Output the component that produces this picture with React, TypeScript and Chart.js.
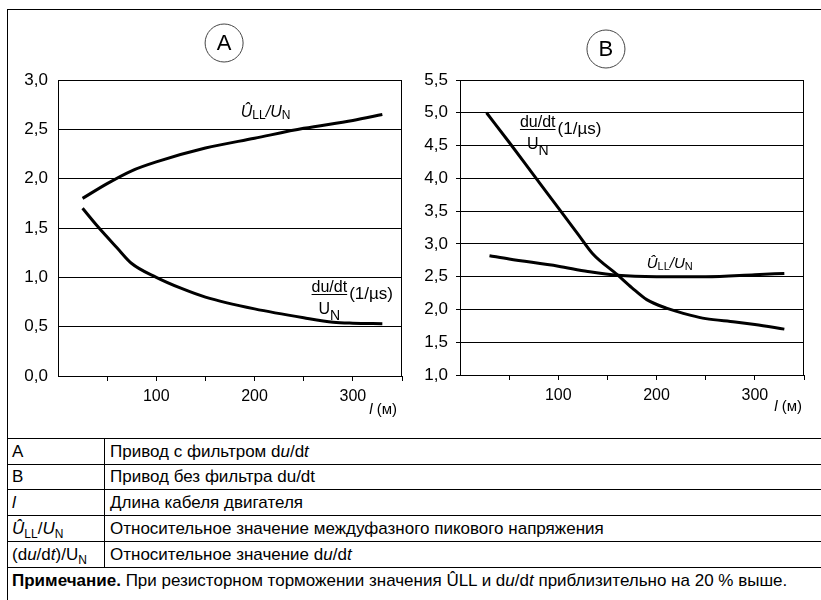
import React, { useEffect, useRef } from 'react';
import { Chart, registerables } from 'chart.js';

Chart.register(...registerables);

const FONT = "'Liberation Sans', Arial, Helvetica, sans-serif";

// ---- Chart A: drive with du/dt filter ----
const lengthPeakA = [25, 50, 75, 100, 150, 200, 250, 300, 330];
const peakA = [1.8, 1.95, 2.08, 2.17, 2.31, 2.41, 2.51, 2.59, 2.65];
const lengthDudtA = [25, 40, 60, 75, 100, 125, 150, 200, 250, 280, 300, 330];
const dudtA = [1.7, 1.52, 1.3, 1.14, 1.0, 0.89, 0.8, 0.68, 0.59, 0.545, 0.535, 0.53];

// ---- Chart B: drive without du/dt filter ----
const lengthDudtB = [27, 50, 75, 100, 120, 135, 160, 175, 190, 210, 235, 250, 280, 300, 330];
const dudtB = [5.0, 4.55, 4.05, 3.55, 3.15, 2.85, 2.53, 2.33, 2.15, 2.02, 1.91, 1.86, 1.81, 1.77, 1.7];
const lengthPeakB = [30, 50, 100, 130, 160, 200, 250, 300, 330];
const peakB = [2.82, 2.77, 2.66, 2.58, 2.52, 2.5, 2.5, 2.53, 2.55];

const xLabeled = [100, 200, 300];
const xRange = [0, 350];
const yRangeA = [0, 3];
const yRangeB = [1, 5.5];

type Seg = { t: string; size: number; italic?: boolean; dy?: number };

function fontOf(s: Seg) {
  return `${s.italic ? 'italic ' : ''}${s.size}px ${FONT}`;
}

function drawSegs(ctx: CanvasRenderingContext2D, segs: Seg[], x: number, y: number, align: 'left' | 'center' | 'right' = 'left') {
  let w = 0;
  for (const s of segs) {
    ctx.font = fontOf(s);
    w += ctx.measureText(s.t).width;
  }
  let cx = align === 'left' ? x : align === 'center' ? x - w / 2 : x - w;
  ctx.textAlign = 'left';
  ctx.textBaseline = 'alphabetic';
  for (const s of segs) {
    ctx.font = fontOf(s);
    ctx.fillText(s.t, cx, y + (s.dy || 0));
    cx += ctx.measureText(s.t).width;
  }
  return w;
}

type DecoCfg = {
  letter: string;
  circleX: number;
  circleDy: number;
  peak: { x: number; y: number; size: number };
  frac: { x: number; y: number; size: number };
  titleDx: number;
  titleDy: number;
};

function decoPlugin(cfg: DecoCfg) {
  return {
    id: 'deco' + cfg.letter,
    afterDraw(chart: any) {
      const ctx: CanvasRenderingContext2D = chart.ctx;
      const xs = chart.scales.x;
      const ys = chart.scales.y;
      const area = chart.chartArea;
      ctx.save();
      ctx.fillStyle = '#000';
      ctx.strokeStyle = '#000';
      // right border of plot
      ctx.lineWidth = 1;
      ctx.beginPath();
      const rx = Math.round(area.right) - 0.5;
      ctx.moveTo(rx, area.top);
      ctx.lineTo(rx, area.bottom);
      ctx.stroke();

      // circle label
      const cx = xs.getPixelForValue(cfg.circleX);
      const cy = area.top + cfg.circleDy;
      ctx.strokeStyle = '#444';
      ctx.lineWidth = 1;
      ctx.beginPath();
      ctx.arc(cx, cy, 19, 0, Math.PI * 2);
      ctx.stroke();
      ctx.font = `22px ${FONT}`;
      ctx.textAlign = 'center';
      ctx.textBaseline = 'middle';
      ctx.fillText(cfg.letter, cx, cy + 1);

      // peak label  U_LL / U_N
      const ps = cfg.peak.size;
      const sub = Math.round(ps * 0.75);
      drawSegs(ctx, [
        { t: 'Û', size: ps, italic: true },
        { t: 'LL', size: sub, dy: 2 },
        { t: '/', size: ps, italic: true },
        { t: 'U', size: ps, italic: true },
        { t: 'N', size: sub, dy: 2 },
      ], xs.getPixelForValue(cfg.peak.x), ys.getPixelForValue(cfg.peak.y));

      // fraction du/dt over U_N (1/µs)
      const fs = cfg.frac.size;
      const bx = xs.getPixelForValue(cfg.frac.x);
      const by = Math.round(ys.getPixelForValue(cfg.frac.y));
      ctx.font = `${fs}px ${FONT}`;
      const nw = ctx.measureText('du/dt').width;
      drawSegs(ctx, [{ t: 'du/dt', size: fs }], bx, by - 2);
      ctx.fillRect(bx, by, nw, 1);
      drawSegs(ctx, [
        { t: 'U', size: fs },
        { t: 'N', size: fs - 2, dy: 6 },
      ], bx + nw / 2, by + 20, 'center');
      drawSegs(ctx, [{ t: '(1/µs)', size: fs + 1 }], bx + nw + 2, by + 5);

      // axis title l (м)
      drawSegs(ctx, [
        { t: 'l', size: 15, italic: true },
        { t: ' (м)', size: 15 },
      ], area.right + cfg.titleDx, area.bottom + cfg.titleDy, 'right');
      ctx.restore();
    },
  };
}

function toPoints(xsArr: number[], ysArr: number[]) {
  return xsArr.map((x, i) => ({ x, y: ysArr[i] }));
}

type ChartSpec = {
  width: number;
  height: number;
  padRight: number;
  padTop: number;
  yWidth: number;
  xHeight: number;
  yRange: number[];
  yTickLen: number;
  yPad: number;
  series: { x: number[]; y: number[] }[];
  deco: DecoCfg;
};

function LineChart({ spec }: { spec: ChartSpec }) {
  const ref = useRef<HTMLCanvasElement | null>(null);
  useEffect(() => {
    if (!ref.current) return;
    const chart = new Chart(ref.current, {
      type: 'line',
      data: {
        datasets: spec.series.map((s) => ({
          data: toPoints(s.x, s.y),
          borderColor: '#000',
          borderWidth: 3,
          pointRadius: 0,
          fill: false,
          cubicInterpolationMode: 'monotone' as const,
          borderCapStyle: 'butt' as const,
        })),
      },
      options: {
        responsive: false,
        animation: false,
        layout: { padding: { top: spec.padTop, right: spec.padRight, left: 0, bottom: 0 } },
        plugins: { legend: { display: false }, tooltip: { enabled: false }, title: { display: false } },
        scales: {
          x: {
            type: 'linear',
            min: xRange[0],
            max: xRange[1],
            afterFit: (s: any) => { s.height = spec.xHeight; },
            afterBuildTicks: (s: any) => { s.ticks = s.ticks.filter((t: any) => t.value > 0); },
            ticks: {
              stepSize: 50,
              color: '#000',
              font: { family: FONT, size: 16 },
              padding: 6,
              maxRotation: 0,
              autoSkip: false,
              callback: (v: any) => (xLabeled.includes(Number(v)) ? String(v) : ''),
            },
            grid: { display: true, drawOnChartArea: false, drawTicks: true, tickLength: 5, color: '#000', lineWidth: 1 },
            border: { display: true, color: '#000', width: 1 },
          },
          y: {
            type: 'linear',
            min: spec.yRange[0],
            max: spec.yRange[1],
            afterFit: (s: any) => { s.width = spec.yWidth; },
            ticks: {
              stepSize: 0.5,
              color: '#000',
              font: { family: FONT, size: 17 },
              padding: spec.yPad,
              callback: (v: any) => Number(v).toFixed(1).replace('.', ','),
            },
            grid: { display: true, drawTicks: spec.yTickLen > 0, tickLength: spec.yTickLen, color: '#000', lineWidth: 1 },
            border: { display: true, color: '#000', width: 1 },
          },
        },
      },
      plugins: [decoPlugin(spec.deco)],
    } as any);
    return () => chart.destroy();
  }, [spec]);
  return <canvas ref={ref} width={spec.width} height={spec.height} style={{ width: spec.width, height: spec.height, display: 'block' }} />;
}

const specA: ChartSpec = {
  width: 400,
  height: 405,
  padRight: 8,
  padTop: 65,
  yWidth: 48,
  xHeight: 44,
  yRange: yRangeA,
  yTickLen: 0,
  yPad: 10,
  series: [
    { x: lengthPeakA, y: peakA },
    { x: lengthDudtA, y: dudtA },
  ],
  deco: {
    letter: 'A',
    circleX: 169,
    circleDy: -37,
    peak: { x: 186, y: 2.62, size: 16 },
    frac: { x: 258, y: 0.83, size: 16 },
    titleDx: -5,
    titleDy: 38,
  },
};

const specB: ChartSpec = {
  width: 404,
  height: 405,
  padRight: 12,
  padTop: 65,
  yWidth: 48,
  xHeight: 45,
  yRange: yRangeB,
  yTickLen: 4,
  yPad: 8,
  series: [
    { x: lengthDudtB, y: dudtB },
    { x: lengthPeakB, y: peakB },
  ],
  deco: {
    letter: 'B',
    circleX: 148.5,
    circleDy: -31,
    peak: { x: 190, y: 2.63, size: 15 },
    frac: { x: 61, y: 4.76, size: 16 },
    titleDx: -2,
    titleDy: 36,
  },
};

const tableLines = [438, 464, 489, 515, 541, 567];
const noteBottom = 593;
const TABLE_FONT = 17;

const Sub = ({ children }: { children: React.ReactNode }) => (
  <span style={{ fontSize: 12, position: 'relative', top: 4 }}>{children}</span>
);

const legendKeys: React.ReactNode[] = [
  'A',
  'B',
  <i>l</i>,
  <><i>Û</i><Sub>LL</Sub>/<i>U</i><Sub>N</Sub></>,
  <>(d<i>u</i>/d<i>t</i>)/U<Sub>N</Sub></>,
];

const legendTexts: React.ReactNode[] = [
  <>Привод с фильтром d<i>u</i>/d<i>t</i></>,
  'Привод без фильтра du/dt',
  'Длина кабеля двигателя',
  'Относительное значение междуфазного пикового напряжения',
  <>Относительное значение d<i>u</i>/d<i>t</i></>,
];

const noteText = (
  <><b>Примечание.</b>{' '}При резисторном торможении значения ÛLL и d<i>u</i>/d<i>t</i>{' '}приблизительно на 20 % выше.</>
);

const line = (style: React.CSSProperties) => <div style={{ position: 'absolute', background: '#000', ...style }} />;

const cellStyle = (left: number, top: number, h: number): React.CSSProperties => ({
  position: 'absolute',
  left,
  top,
  height: h,
  display: 'flex',
  alignItems: 'center',
  fontSize: TABLE_FONT,
  whiteSpace: 'nowrap',
});

export default function App() {
  return (
    <div style={{ position: 'absolute', left: 0, top: 0, width: 821, height: 600, overflow: 'hidden', background: '#fff', fontFamily: FONT, color: '#000' }}>
      {line({ left: 7, top: 9, width: 1, height: 591 })}
      {line({ left: 7, top: 9, width: 814, height: 1 })}
      <div style={{ position: 'absolute', left: 10, top: 15 }}>
        <LineChart spec={specA} />
      </div>
      <div style={{ position: 'absolute', left: 412, top: 15 }}>
        <LineChart spec={specB} />
      </div>
      {tableLines.map((y, i) => (
        <React.Fragment key={'l' + i}>{line({ left: 7, top: y, width: 814, height: 1 })}</React.Fragment>
      ))}
      {line({ left: 104, top: tableLines[0], width: 1, height: tableLines[tableLines.length - 1] - tableLines[0] })}
      {legendKeys.map((k, i) => (
        <React.Fragment key={'r' + i}>
          <div style={cellStyle(12, tableLines[i] + 1, tableLines[i + 1] - tableLines[i] - 1)}><span>{k}</span></div>
          <div style={cellStyle(110, tableLines[i] + 1, tableLines[i + 1] - tableLines[i] - 1)}><span>{legendTexts[i]}</span></div>
        </React.Fragment>
      ))}
      <div style={cellStyle(12, tableLines[5] + 1, noteBottom - tableLines[5] - 1)}><span>{noteText}</span></div>
    </div>
  );
}
